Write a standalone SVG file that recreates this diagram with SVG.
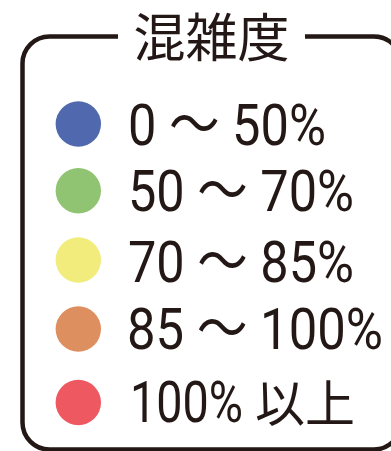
<svg xmlns="http://www.w3.org/2000/svg" width="391" height="451" viewBox="0 0 391 451">
<style>
.lbl{font-family:Roboto,"Noto Sans CJK JP",sans-serif;font-size:58px;fill:#231815}
.cjk{font-family:"Noto Sans CJK JP",sans-serif;fill:#231815}
.frame{fill:none;stroke:#231815;stroke-width:4.5}
</style>
<rect width="391" height="451" fill="#ffffff"/>
<g id="frame">
<path class="frame" d="M118,36.5 H49.5 A27,27 0 0 0 22.5,63.5 V422.5 A27,27 0 0 0 49.5,449.5 H374 A27,27 0 0 0 401,422.5 V63.5 A27,27 0 0 0 374,36.5 H305"/>
<text class="cjk" x="211.5" y="57" font-size="52" text-anchor="middle">混雑度</text>
</g>
<g id="item1">
<circle cx="78.3" cy="124" r="22.7" fill="#5068ae"/>
<text class="lbl" x="128" y="145" textLength="198" lengthAdjust="spacingAndGlyphs">0 〜 50%</text>
</g>
<g id="item2">
<circle cx="78.3" cy="190.8" r="22.7" fill="#90c472"/>
<text class="lbl" x="128" y="211" textLength="226" lengthAdjust="spacingAndGlyphs">50 〜 70%</text>
</g>
<g id="item3">
<circle cx="78.3" cy="260" r="22.7" fill="#f2ec7c"/>
<text class="lbl" x="128" y="281.5" textLength="226" lengthAdjust="spacingAndGlyphs">70 〜 85%</text>
</g>
<g id="item4">
<circle cx="78.3" cy="329" r="22.7" fill="#de8f5f"/>
<text class="lbl" x="127" y="348.5" textLength="256" lengthAdjust="spacingAndGlyphs">85 〜 100%</text>
</g>
<g id="item5">
<circle cx="78.3" cy="402.5" r="22.7" fill="#ee5861"/>
<text class="lbl" x="130" y="421.5" textLength="113" lengthAdjust="spacingAndGlyphs">100%</text>
<text class="cjk" x="255" y="421.5" font-size="50">以上</text>
</g>
</svg>
